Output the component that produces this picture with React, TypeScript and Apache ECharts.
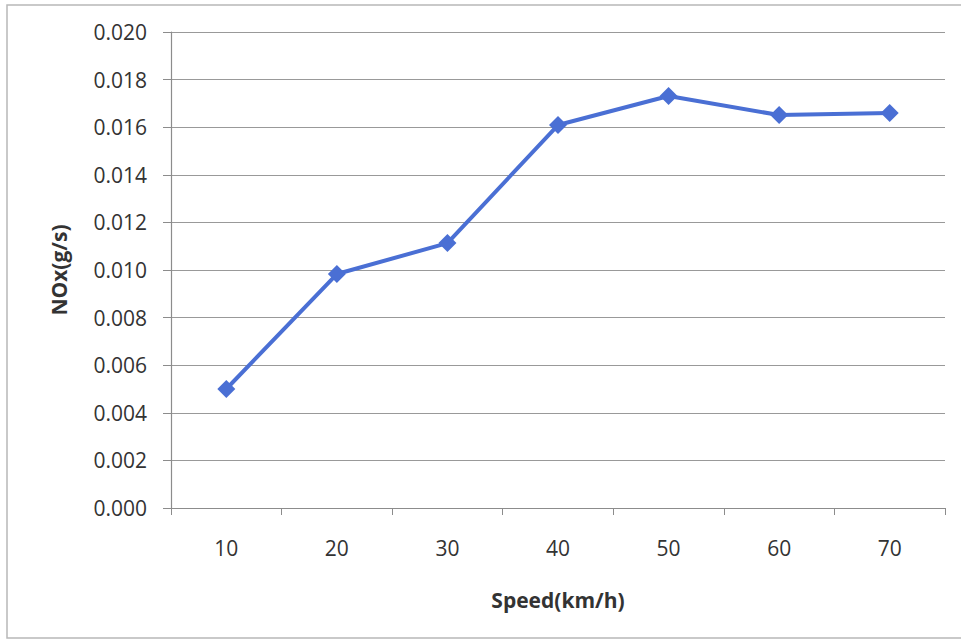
import React, { useEffect, useRef } from "react";
import * as echarts from "echarts";

const speeds: string[] = ["10", "20", "30", "40", "50", "60", "70"];
const noxValues: number[] = [0.005, 0.00983, 0.01113, 0.01609, 0.01731, 0.01651, 0.0166];
const yTicks = { min: 0, max: 0.02, interval: 0.002 };

export default function App() {
  const ref = useRef<HTMLDivElement>(null);
  useEffect(() => {
    if (!ref.current) return;
    const chart = echarts.init(ref.current, undefined, { renderer: "svg" });
    const font = "'Open Sans', 'Noto Sans', sans-serif";
    chart.setOption({
      animation: false,
      backgroundColor: "#ffffff",
      graphic: [
        {
          type: "rect",
          shape: { x: 7, y: 5, width: 960, height: 633 },
          style: { fill: "none", stroke: "#b8b8b8", lineWidth: 1.5 },
          silent: true,
        },
      ],
      grid: { left: 171, right: 16, top: 32, bottom: 134 },
      xAxis: {
        type: "category",
        data: speeds,
        boundaryGap: true,
        name: "Speed(km/h)",
        nameLocation: "middle",
        nameGap: 81,
        nameTextStyle: { fontFamily: font, fontSize: 21, fontWeight: "bold", color: "#333" },
        axisLine: { show: true, lineStyle: { color: "#8c8c8c", width: 1.2 } },
        axisTick: { show: true, length: 7, alignWithLabel: false, lineStyle: { color: "#8c8c8c" } },
        axisLabel: { fontFamily: font, fontSize: 21, color: "#333", margin: 29 },
        splitLine: { show: false },
      },
      yAxis: {
        type: "value",
        min: yTicks.min,
        max: yTicks.max,
        interval: yTicks.interval,
        name: "NOx(g/s)",
        nameLocation: "middle",
        nameGap: 102,
        nameRotate: 90,
        nameTextStyle: { fontFamily: font, fontSize: 21, fontWeight: "bold", color: "#333" },
        axisLine: { show: true, lineStyle: { color: "#8c8c8c", width: 1.2 } },
        axisTick: { show: true, length: 8, inside: false, lineStyle: { color: "#8c8c8c" } },
        axisLabel: {
          fontFamily: font,
          fontSize: 21,
          color: "#333",
          margin: 24,
          formatter: (v: number) => v.toFixed(3),
        },
        splitLine: { show: true, lineStyle: { color: "#999999", width: 1.2 } },
      },
      series: [
        {
          type: "line",
          data: noxValues,
          symbol: "diamond",
          symbolSize: 18,
          lineStyle: { color: "#4a6fd4", width: 4 },
          itemStyle: { color: "#4a6fd4" },
        },
      ],
    });
    return () => chart.dispose();
  }, []);
  return (
    <div
      ref={ref}
      style={{ position: "fixed", left: 0, top: 0, width: 961, height: 642 }}
    />
  );
}
